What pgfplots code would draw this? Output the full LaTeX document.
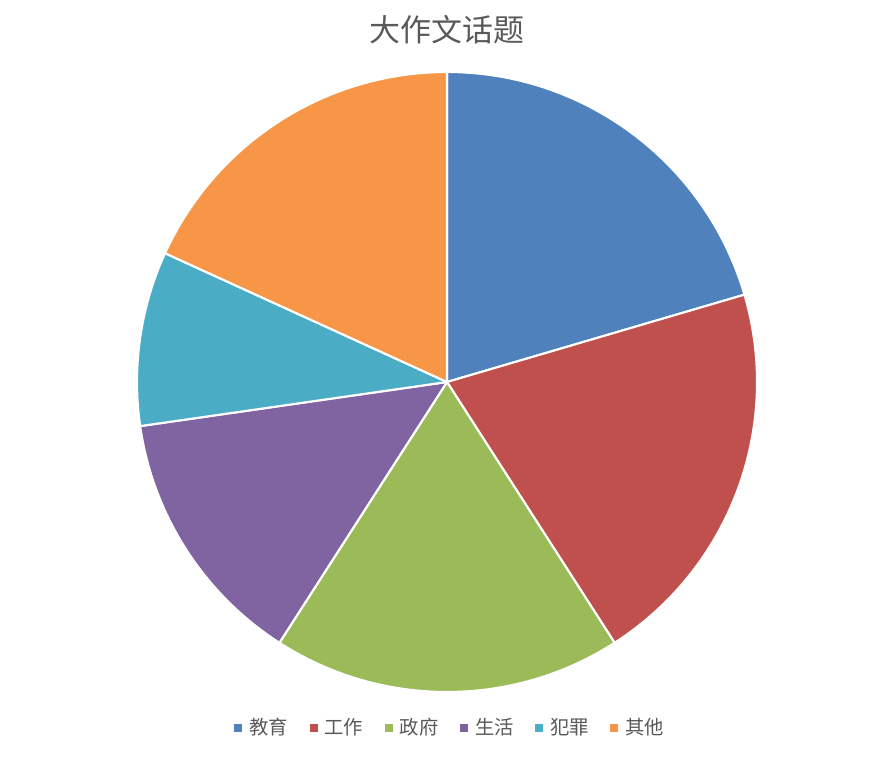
\documentclass[border=0pt]{standalone}
\usepackage{fontspec}
\newfontfamily\cjk{Noto Sans CJK SC}
\usepackage{pgfplots}
\usepackage{pgfplotstable}
\pgfplotsset{compat=1.18}
\definecolor{c1}{HTML}{4F81BD}
\definecolor{c2}{HTML}{C0504D}
\definecolor{c3}{HTML}{9BBB59}
\definecolor{c4}{HTML}{8064A2}
\definecolor{c5}{HTML}{4BACC6}
\definecolor{c6}{HTML}{F79646}
\definecolor{txt}{HTML}{595959}

% topic counts, clockwise from 12 o'clock
\pgfplotstableread{
value col
9 c1
9 c2
8 c3
6 c4
4 c5
8 c6
}\piedata

\begin{document}
\begin{tikzpicture}
\begin{axis}[
    scale only axis,
    width=17.76cm, height=15.16cm,
    xmin=-8.94, xmax=8.82, ymin=-7.52, ymax=7.64,
    hide axis, clip=false,
    legend columns=-1,
    legend style={at={(axis cs:0.08,-6.92)}, anchor=center, draw=none, fill=none,
        font=\cjk\fontsize{11}{13}\selectfont, text=txt,
        /tikz/every odd column/.append style={column sep=0.07cm},
        /tikz/every even column/.append style={column sep=0.36cm}},
    legend image code/.code={\fill[#1, draw=none] (0cm,-0.08cm) rectangle (0.16cm,0.08cm);},
]
\path (axis cs:-8.94,-7.52) rectangle (axis cs:8.82,7.64);
\pgfplotstablegetrowsof{\piedata}
\pgfmathtruncatemacro\lastrow{\pgfplotsretval-1}
\def\total{0}
\pgfplotsforeachungrouped \i in {0,...,\lastrow}{%
    \pgfplotstablegetelem{\i}{value}\of\piedata
    \pgfmathsetmacro\total{\total+\pgfplotsretval}%
}
\def\startang{90}
\pgfplotsforeachungrouped \i in {0,...,\lastrow}{%
    \pgfplotstablegetelem{\i}{value}\of\piedata
    \pgfmathsetmacro\endang{\startang-360*\pgfplotsretval/\total}%
    \pgfplotstablegetelem{\i}{col}\of\piedata
    \edef\temp{\noexpand\filldraw[fill=\pgfplotsretval, draw=white, line width=1.2pt, line join=round]
        (axis cs:0,0) -- ++(\startang:6.2cm) arc[start angle=\startang, end angle=\endang, radius=6.2cm] -- cycle;}%
    \temp
    \let\startang\endang
}
\node[font=\cjk\fontsize{17.6}{20}\selectfont, text=txt] at (axis cs:0,7.04) {大作文话题};
\addlegendimage{fill=c1}\addlegendentry{教育}
\addlegendimage{fill=c2}\addlegendentry{工作}
\addlegendimage{fill=c3}\addlegendentry{政府}
\addlegendimage{fill=c4}\addlegendentry{生活}
\addlegendimage{fill=c5}\addlegendentry{犯罪}
\addlegendimage{fill=c6}\addlegendentry{其他}
\end{axis}
\end{tikzpicture}
\end{document}
